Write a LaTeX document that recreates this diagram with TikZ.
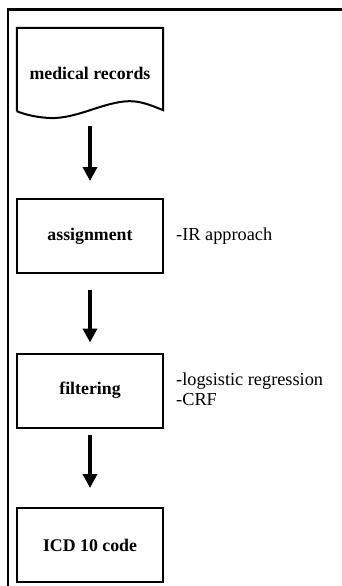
\documentclass[tikz,border=0pt]{standalone}
\usepackage{fontspec}
\setmainfont{Liberation Serif}
\usetikzlibrary{arrows.meta}
\begin{document}
\begin{tikzpicture}[x=1pt,y=1pt,
  stepbox/.style={draw, line width=2pt, minimum width=146pt, minimum height=74pt, inner sep=0pt, font=\fontsize{17.8}{20}\selectfont\bfseries},
  arr/.style={line width=4pt, -{Triangle[width=14pt,length=14pt]}},
  note/.style={anchor=west, align=left, inner sep=0pt, font=\fontsize{18.3}{19.5}\selectfont}]
\useasboundingbox (0,0) rectangle (342,-586);
% outer frame (cropped at right and bottom)
\draw[line width=2.2pt] (8,-590) -- (8,-9.5) -- (346,-9.5);
% document shape
\node[minimum width=146pt, minimum height=83pt, inner sep=0pt] (medbox) at (90,-69.5) {};
\node[font=\fontsize{17.8}{20}\selectfont\bfseries] (med) at (90,-73) {medical records};
\draw[line width=2pt] (medbox.south west) -- (medbox.north west) -- (medbox.north east) -- ([yshift=1pt]medbox.south east)
  .. controls (148,-104) and (138,-100) .. (124,-101.5)
  .. controls (100,-104) and (75,-119) .. (50,-118)
  .. controls (38,-117.5) and (26,-115) .. (medbox.south west);
% boxes
\node[stepbox] (asg) at (90,-236) {assignment};
\node[stepbox] (fil) at (90,-390.5) {filtering};
\node[stepbox] (icd) at (90,-545) {ICD 10 code};
% notes
\node[note] (n1) at (176,-236) {-IR approach};
\node[note] (n2) at (176,-389) {-logsistic regression\\-CRF};
% arrows
\draw[arr, shorten <=15pt, shorten >=17pt] (medbox.south) -- (asg.north);
\draw[arr, shorten <=16pt, shorten >=10pt] (asg.south) -- (fil.north);
\draw[arr, shorten <=6pt, shorten >=19pt] (fil.south) -- (icd.north);
\end{tikzpicture}
\end{document}
